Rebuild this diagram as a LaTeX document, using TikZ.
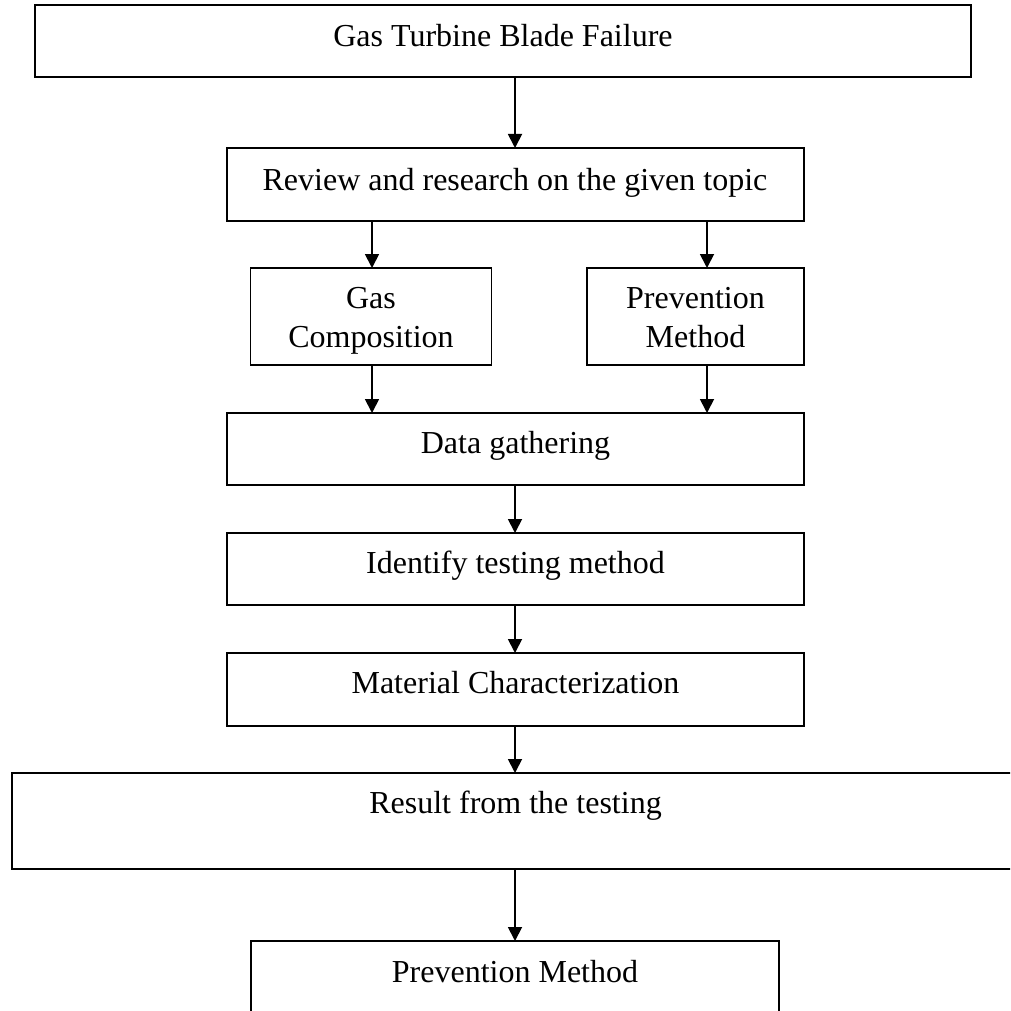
\documentclass[tikz,border=0pt]{standalone}
\usepackage{fontspec}
\setmainfont{Liberation Serif}
\usetikzlibrary{arrows.meta}
\begin{document}
\begin{tikzpicture}[x=1pt,y=1pt,
  box/.style={draw=black, line width=1.8pt, inner sep=0pt, outer sep=0pt, rectangle},
  lbl/.style={anchor=base, inner sep=0pt, font=\fontsize{32pt}{39pt}\selectfont},
  arr/.style={line width=1.8pt, -{Triangle[length=14pt,width=14pt]}}]
\clip (0,0) rectangle (1010,-1011);
\fill[white] (0,0) rectangle (1010,-1011);
% boxes
\node[box, minimum width=936pt, minimum height=72pt] (top) at (503,-41) {};
\node[box, minimum width=577pt, minimum height=73pt] (rev) at (515.5,-184.5) {};
\node[box, minimum width=241pt, minimum height=97pt] (gas) at (371,-316.5) {};
\node[box, minimum width=217pt, minimum height=97pt] (prev) at (695.5,-316.5) {};
\node[box, minimum width=577pt, minimum height=72pt] (data) at (515.5,-449) {};
\node[box, minimum width=577pt, minimum height=72pt] (ident) at (515.5,-569) {};
\node[box, minimum width=577pt, minimum height=73pt] (mat) at (515.5,-689.5) {};
\node[box, minimum width=1018.4pt, minimum height=96pt] (res) at (520.8,-821) {};
\node[box, minimum width=528pt, minimum height=100pt] (bot) at (515,-991) {};
% texts
\node[lbl] (ttop) at (503,-47) {Gas Turbine Blade Failure};
\node[lbl] (trev) at (515,-190) {Review and research on the given topic};
\node[lbl] (tgas1) at (371,-308) {Gas};
\node[lbl] (tgas2) at (371,-347) {Composition};
\node[lbl] (tprev1) at (695.5,-308) {Prevention};
\node[lbl] (tprev2) at (695.5,-347) {Method};
\node[lbl] (tdata) at (515.5,-453) {Data gathering};
\node[lbl] (tident) at (515.5,-573) {Identify testing method};
\node[lbl] (tmat) at (515.5,-693) {Material Characterization};
\node[lbl] (tres) at (515.5,-813) {Result from the testing};
\node[lbl] (tbot) at (515,-982) {Prevention Method};
% connectors
\coordinate (xl) at (372,0);
\coordinate (xr) at (707,0);
\coordinate (xm) at (515,0);
\draw[arr] (xm |- top.south) -- (xm |- rev.north);
\draw[arr] (xl |- rev.south) -- (xl |- gas.north);
\draw[arr] (xr |- rev.south) -- (xr |- prev.north);
\draw[arr] (xl |- gas.south) -- (xl |- data.north);
\draw[arr] (xr |- prev.south) -- (xr |- data.north);
\draw[arr] (xm |- data.south) -- (xm |- ident.north);
\draw[arr] (xm |- ident.south) -- (xm |- mat.north);
\draw[arr] (xm |- mat.south) -- (xm |- res.north);
\draw[arr] (xm |- res.south) -- (xm |- bot.north);
\end{tikzpicture}
\end{document}
